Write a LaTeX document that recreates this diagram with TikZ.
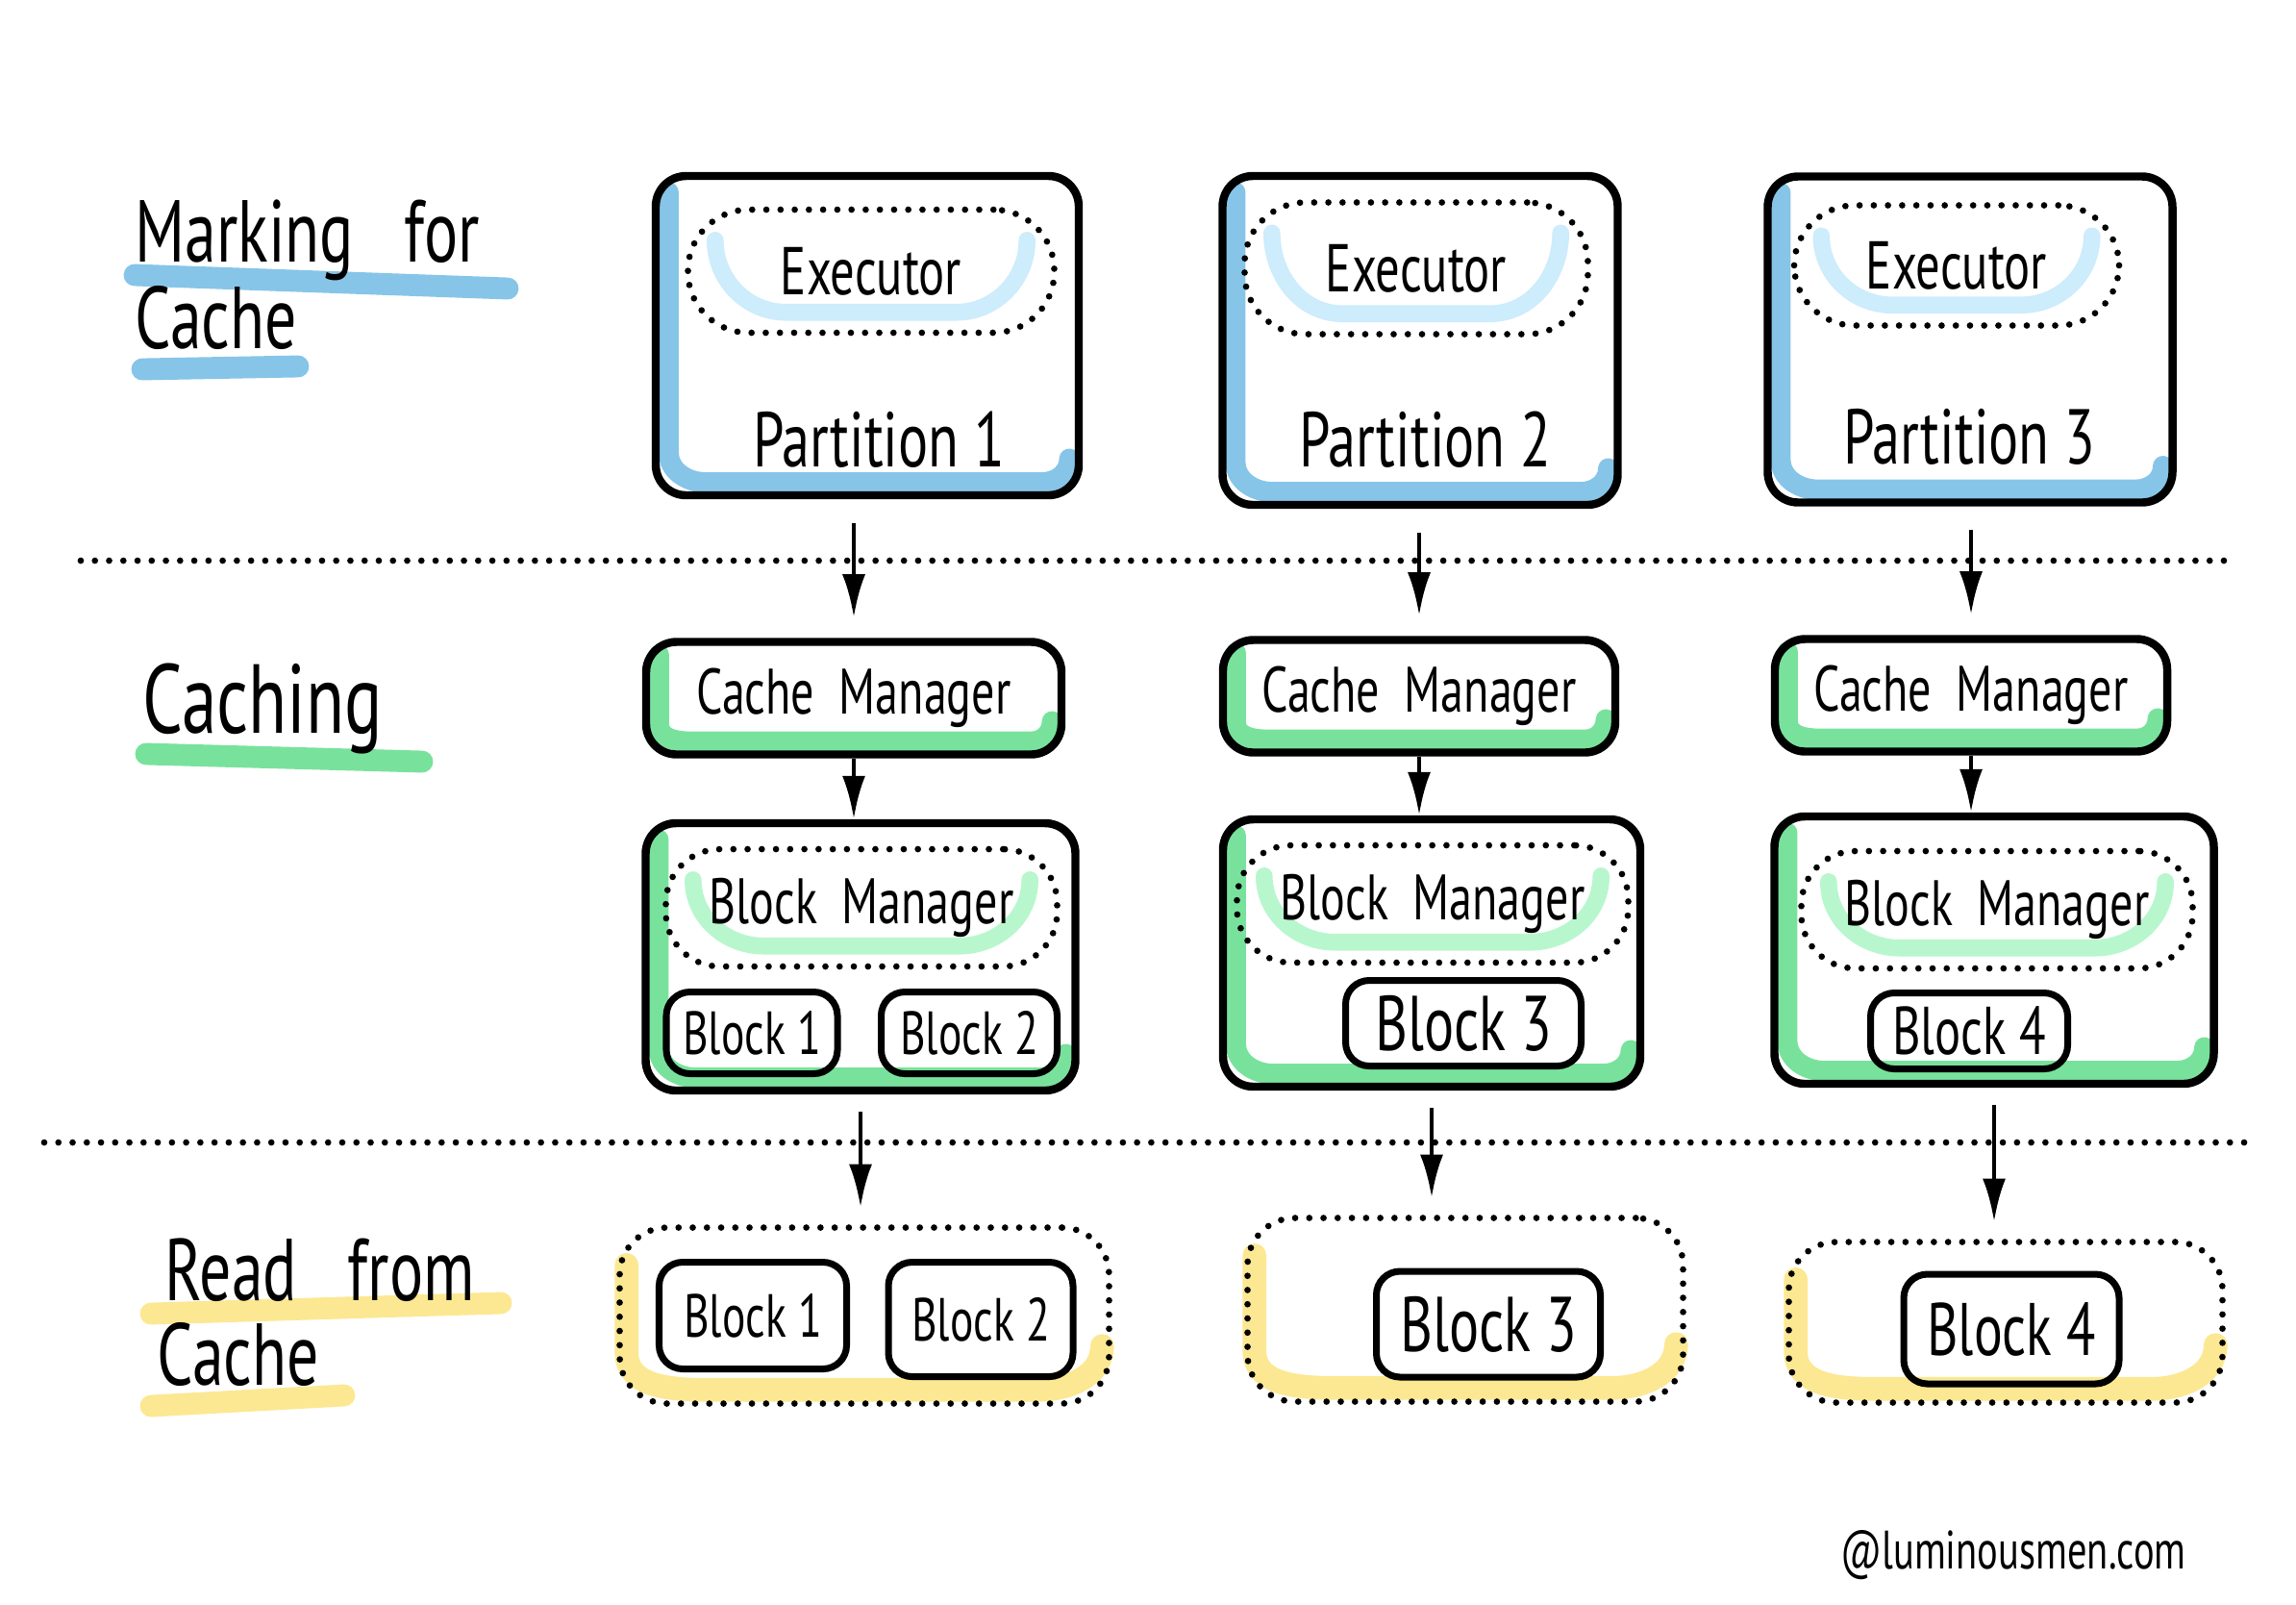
\documentclass[tikz,border=0pt]{standalone}
\usepackage{fontspec}
\setmainfont{PT Sans}[FakeStretch=0.72]
\usetikzlibrary{arrows.meta,backgrounds}

\definecolor{hlblue}{RGB}{134,197,232}
\definecolor{hlbluelight}{RGB}{205,236,252}
\definecolor{hlgreen}{RGB}{120,226,156}
\definecolor{hlgreenlight}{RGB}{184,247,205}
\definecolor{hlyellow}{RGB}{252,232,146}

\tikzset{
	box/.style={draw,line width=2.4pt,rounded corners=9pt},
	block/.style={draw,line width=2pt,rounded corners=7pt,inner sep=0pt},
	dotbox/.style={draw,line width=1.9pt,dash pattern=on 0pt off 4.2pt,line cap=round,rounded corners=16pt},
	dotline/.style={line width=1.9pt,dash pattern=on 0pt off 4.2pt,line cap=round},
	marker/.style={line width=6pt,line cap=round,line join=round},
	arr/.style={line width=1.4pt,-{Latex[length=4.5mm,width=2.4mm]}},
	mid/.style={font=\fontsize{19}{22}\selectfont},
	big/.style={font=\fontsize{23}{26}\selectfont},
	title/.style={font=\fontsize{26}{30}\selectfont,anchor=base west,inner sep=0pt},
}

\begin{document}
\begin{tikzpicture}
	\useasboundingbox (0,0) rectangle (23.88,-16.68);
	\begin{scope}[on background layer]
		\fill[white] (0,0) rectangle (23.88,-16.68);
	\end{scope}
	% marking for cache
	\foreach \i/\x/\y/\w/\h in 
	{1/9.02/-3.49/4.40/3.32,2/14.77/-3.54/4.11/3.42,3/20.49/-3.53/4.21/3.39}
	{
		\node[box,minimum width=\w cm,minimum height=\h cm] (part\i) at (\x,\y) {};
	}
	\foreach \i/\x/\y/\w/\h in 
	{1/9.06/-2.82/3.81/1.28,2/14.73/-2.79/3.57/1.37,3/20.35/-2.76/3.38/1.25}
	{
		\node[dotbox,font=\fontsize{20}{24}\selectfont,rounded corners=18pt,minimum width=\w cm,minimum height=\h cm] (exec\i) at (\x,\y) {Executor};
	}
	\foreach \i/\x/\y in {1/9.14/-4.57,2/14.82/-4.57,3/20.48/-4.54}
	{
		\node[big] (ptext\i) at (\x,\y) {Partition \i};
	}
	% caching
	\foreach \i/\x/\y/\w in {1/8.88/-7.26/4.32,2/14.76/-7.24/4.08,3/20.50/-7.23/4.08}
	{
		\node[box,mid,minimum width=\w cm,minimum height=1.17cm] (cache\i) at (\x,\y) {Cache\ \ Manager};
	}
	\foreach \i/\x/\y/\w in {1/8.95/-9.95/4.47,2/14.89/-9.91/4.34,3/20.74/-9.88/4.57}
	{
		\node[box,minimum width=\w cm,minimum height=2.78cm] (bm\i) at (\x,\y) {};
	}
	\foreach \i/\x/\y in {1/8.96/-9.44,2/14.90/-9.40,3/20.77/-9.46}
	{
		\node[dotbox,mid,minimum width=4.07cm,minimum height=1.22cm] (bmgr\i) at (\x,\y) {Block\ \ Manager};
	}
	\foreach \n/\x/\y/\w/\h/\sz in 
	{1/7.82/-10.74/1.78/0.85/18,2/10.08/-10.74/1.83/0.85/18,3/15.22/-10.64/2.45/0.89/23,4/20.48/-10.72/2.05/0.79/20}
	{
		\node[block,minimum width=\w cm,minimum height=\h cm,font=\fontsize{\sz}{\sz}\selectfont] (blk\n) at (\x,\y) {Block \n};
	}
	% read from cache
	\foreach \i/\x/\y/\w/\h in 
	{1/8.99/-13.68/5.09/1.83,2/15.24/-13.62/4.53/1.91,3/20.86/-13.75/4.51/1.67}
	{
		\node[dotbox,rounded corners=14pt,minimum width=\w cm,minimum height=\h cm] (read\i) at (\x,\y) {};
	}
	\foreach \n/\x/\y/\w/\h/\sz in 
	{1/7.83/-13.68/1.95/1.11/18,2/10.20/-13.72/1.92/1.19/18,3/15.48/-13.77/2.33/1.10/23,4/20.92/-13.82/2.24/1.14/22}
	{
		\node[block,minimum width=\w cm,minimum height=\h cm,font=\fontsize{\sz}{\sz}\selectfont] (rblk\n) at (\x,\y) {Block \n};
	}
	% arrows
	\foreach \i in {1,2,3}
	{
		\draw[arr,shorten <=7pt,shorten >=6pt] (cache\i.north |- part\i.south) -- (cache\i.north);
		\draw[arr] (cache\i.south) -- (cache\i.south |- bm\i.north);
		\draw[arr,shorten <=5pt,shorten >=5pt] (bm\i.south) -- (bm\i.south |- read\i.north);
	}
	\draw[dotline] (0.84,-5.83) -- (23.18,-5.83);
	\draw[dotline] (0.46,-11.88) -- (23.41,-11.88);
	% highlights
	\begin{scope}[on background layer]
		\foreach \i in {1,2,3}
		{
			\draw[marker,hlblue] ([shift={(5pt,-6pt)}]part\i.north west) -- ([shift={(5pt,14pt)}]part\i.south west) 
			to[out=-90,in=180] ([shift={(16pt,5pt)}]part\i.south west) -- ([shift={(-12pt,5pt)}]part\i.south east) 
			to[out=0,in=-90] ([shift={(-4pt,12pt)}]part\i.south east);
			\draw[marker,hlbluelight,line width=5pt] ([shift={(9pt,-10pt)}]exec\i.north west) 
			to[out=-90,in=180] ([shift={(30pt,7pt)}]exec\i.south west) -- ([shift={(-30pt,7pt)}]exec\i.south east) 
			to[out=0,in=-90] ([shift={(-9pt,-10pt)}]exec\i.north east);
			\draw[marker,hlgreen] ([shift={(5pt,-5pt)}]cache\i.north west) -- ([shift={(5pt,10pt)}]cache\i.south west) 
			to[out=-90,in=180] ([shift={(14pt,5pt)}]cache\i.south west) -- ([shift={(-10pt,5pt)}]cache\i.south east) 
			to[out=0,in=-90] ([shift={(-4pt,11pt)}]cache\i.south east);
			\draw[marker,hlgreen] ([shift={(5pt,-6pt)}]bm\i.north west) -- ([shift={(5pt,14pt)}]bm\i.south west) 
			to[out=-90,in=180] ([shift={(16pt,5pt)}]bm\i.south west) -- ([shift={(-12pt,5pt)}]bm\i.south east) 
			to[out=0,in=-90] ([shift={(-4pt,12pt)}]bm\i.south east);
			\draw[marker,hlgreenlight,line width=5pt] ([shift={(9pt,-10pt)}]bmgr\i.north west) 
			to[out=-90,in=180] ([shift={(30pt,7pt)}]bmgr\i.south west) -- ([shift={(-30pt,7pt)}]bmgr\i.south east) 
			to[out=0,in=-90] ([shift={(-9pt,-10pt)}]bmgr\i.north east);
			\draw[marker,hlyellow,line width=7pt] ([shift={(3pt,-12pt)}]read\i.north west) -- ([shift={(3pt,16pt)}]read\i.south west) 
			to[out=-90,in=180] ([shift={(28pt,5pt)}]read\i.south west) -- ([shift={(-22pt,5pt)}]read\i.south east) 
			to[out=0,in=-90] ([shift={(-3pt,18pt)}]read\i.south east);
		}
	\end{scope}
	% row titles
	\draw[marker,hlblue,line width=6.5pt] (1.40,-2.86) -- (5.28,-3.00);
	\draw[marker,hlblue,line width=6.5pt] (1.48,-3.84) -- (3.10,-3.81);
	\draw[marker,hlgreen,line width=6.5pt] (1.52,-7.84) -- (4.39,-7.92);
	\draw[marker,hlyellow,line width=6.5pt] (1.57,-13.66) -- (5.21,-13.55);
	\draw[marker,hlyellow,line width=6.5pt] (1.57,-14.62) -- (3.58,-14.51);
	\node[title] (mark) at (1.40,-2.72) {Marking\ \ \ for};
	\node[title] (markcache) at (1.40,-3.62) {Cache};
	\node[title,font=\fontsize{29}{32}\selectfont] (caching) at (1.48,-7.62) {Caching};
	\node[title] (read) at (1.71,-13.52) {Read\ \ \ from};
	\node[title] (readcache) at (1.63,-14.40) {Cache};
	\node[font=\fontsize{16}{18}\selectfont] (credit) at (20.94,-16.17) {@luminousmen.com};
\end{tikzpicture}
\end{document}
